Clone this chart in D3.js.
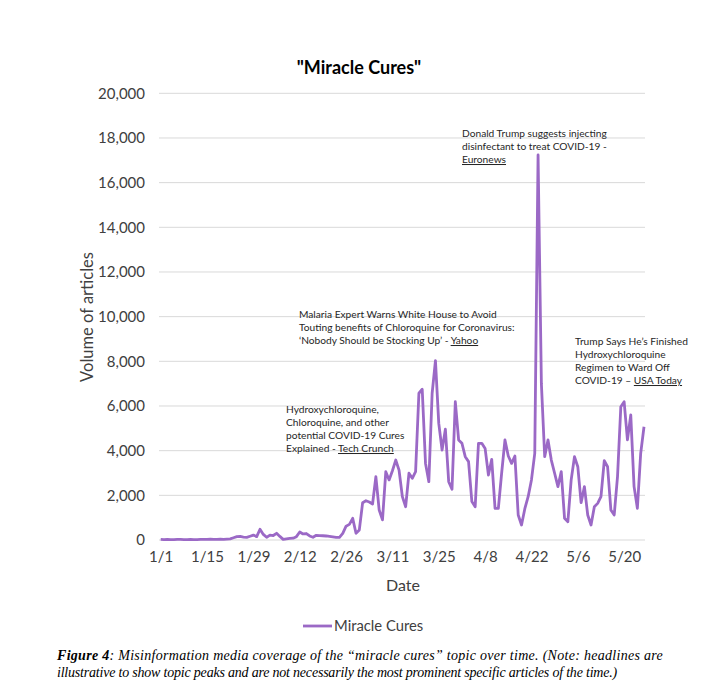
<!DOCTYPE html>
<html>
<head>
<meta charset="utf-8">
<script src="https://cdn.jsdelivr.net/npm/d3@7"></script>
<style>
  html, body { margin: 0; padding: 0; background: #ffffff; }
  svg { display: block; }
</style>
</head>
<body>
<svg id="chart" width="722" height="681"></svg>
<script>
// ---------------- data ----------------
const chartTitle = '"Miracle Cures"';
const seriesName = "Miracle Cures";
const startDate = "2020-01-01";
// daily article volume, 1/1 .. 5/26
const values = [
  30, 20, 30, 20, 20, 30, 30, 20, 20, 30,
  20, 20, 30, 30, 30, 40, 30, 30, 40, 30,
  40, 50, 100, 150, 160, 130, 120, 170, 220, 150,
  480, 250, 120, 220, 200, 300, 160, 30, 50, 70,
  80, 150, 360, 270, 290, 180, 120, 210, 200, 190,
  180, 160, 140, 120, 120, 300, 620, 700, 970, 300,
  450, 1670, 1760, 1700, 1610, 2840, 1340, 900, 3060, 2690,
  3100, 3580, 3130, 1940, 1490, 2990, 2760, 3060, 6570, 6750,
  3430, 2610, 6570, 8030, 5220, 4030, 4960, 2610, 2270, 6190,
  4480, 4330, 3730, 3510, 1720, 1490, 4330, 4330, 4100, 2910,
  3610, 1420, 1420, 3000, 4480, 3760, 3430, 3760, 1120, 670,
  1400, 1940, 2690, 3880, 17240, 7000, 3730, 4480, 3580, 2990,
  2390, 3060, 970, 820, 2690, 3730, 3280, 1670, 2390, 1120,
  670, 1490, 1640, 1940, 3550, 3280, 1340, 1120, 2840, 5970,
  6190, 4480, 5600, 2390, 1420, 3880, 5070
];
const xTickLabels = ["1/1", "1/15", "1/29", "2/12", "2/26", "3/11", "3/25", "4/8", "4/22", "5/6", "5/20"];
const yTicks = [0, 2000, 4000, 6000, 8000, 10000, 12000, 14000, 16000, 18000, 20000];
const xTitle = "Date";
const yTitle = "Volume of articles";
// each line: [plain text, underlined source]
const annotations = [
  [["Donald Trump suggests injecting", ""], ["disinfectant to treat COVID-19 -", ""], ["", "Euronews"]],
  [["Malaria Expert Warns White House to Avoid", ""], ["Touting benefits of Chloroquine for Coronavirus:", ""], ["\u2018Nobody Should be Stocking Up\u2019 - ", "Yahoo"]],
  [["Hydroxychloroquine,", ""], ["Chloroquine, and other", ""], ["potential COVID-19 Cures", ""], ["Explained - ", "Tech Crunch"]],
  [["Trump Says He\u2019s Finished", ""], ["Hydroxychloroquine", ""], ["Regimen to Ward Off", ""], ["COVID-19 \u2013 ", "USA Today"]]
];
const annotationPos = [[462, 137], [299, 318], [286, 413], [575, 345]];
const captionBold = "Figure 4";
const captionLine1 = ": Misinformation media coverage of the \u201cmiracle cures\u201d topic over time. (Note: headlines are";
const captionLine2 = "illustrative to show topic peaks and are not necessarily the most prominent specific articles of the time.)";

// ---------------- layout ----------------
const svg = d3.select("#chart");
const font = "Lato, 'Open Sans', sans-serif";
const lineColor = "#9b69c6";
const textColor = "#404040";
const plot = { left: 159, right: 645, top: 93.3, bottom: 540 };

const t0 = new Date(startDate + "T00:00:00Z");
const data = values.map((v, i) => ({ date: d3.utcDay.offset(t0, i), value: v }));

const x = d3.scaleUtc()
  .domain([data[0].date, data[data.length - 1].date])
  .range([160.7, 644]);
const y = d3.scaleLinear().domain([0, 20000]).range([plot.bottom, plot.top]);

// gridlines
svg.append("g")
  .selectAll("line")
  .data(yTicks)
  .join("line")
  .attr("x1", plot.left).attr("x2", plot.right)
  .attr("y1", d => y(d)).attr("y2", d => y(d))
  .attr("stroke", "#d9d9d9").attr("stroke-width", 1);

// y axis labels
const yAxis = d3.axisLeft(y).tickValues(yTicks).tickSize(0).tickPadding(0)
  .tickFormat(d3.format(","));
const gy = svg.append("g").attr("transform", `translate(145,0)`).call(yAxis);
gy.select(".domain").remove();
gy.selectAll("text").attr("font-family", font).attr("font-size", 15).attr("fill", textColor);

// x axis labels
const xTickDates = xTickLabels.map((s, i) => d3.utcDay.offset(t0, i * 14));
const xAxis = d3.axisBottom(x).tickValues(xTickDates).tickSize(0).tickPadding(0)
  .tickFormat((d, i) => xTickLabels[i]);
const gx = svg.append("g").attr("transform", `translate(0,551)`).call(xAxis);
gx.select(".domain").remove();
gx.selectAll("text").attr("font-family", font).attr("font-size", 15).attr("fill", textColor);

// line
const line = d3.line().x(d => x(d.date)).y(d => y(d.value));
svg.append("path")
  .datum(data)
  .attr("d", line)
  .attr("fill", "none")
  .attr("stroke", lineColor)
  .attr("stroke-width", 2.8)
  .attr("stroke-linejoin", "round");

// title
svg.append("text")
  .attr("x", 359).attr("y", 74)
  .attr("text-anchor", "middle")
  .attr("font-family", font).attr("font-size", 18).attr("font-weight", "bold")
  .attr("fill", "#000")
  .text(chartTitle);

// axis titles
svg.append("text")
  .attr("x", 403).attr("y", 591)
  .attr("text-anchor", "middle")
  .attr("font-family", font).attr("font-size", 16).attr("fill", textColor)
  .text(xTitle);
svg.append("text")
  .attr("transform", "translate(93,317) rotate(-90)")
  .attr("text-anchor", "middle")
  .attr("font-family", font).attr("font-size", 16.5).attr("fill", textColor)
  .text(yTitle);

// annotations
annotations.forEach((a, k) => {
  const [ax, ay] = annotationPos[k];
  a.forEach(([plain, link], j) => {
    const t = svg.append("text")
      .attr("x", ax).attr("y", ay + j * 13)
      .attr("font-family", font).attr("font-size", 10.2)
      .attr("fill", "#262626");
    if (plain) t.append("tspan").text(plain);
    if (link) t.append("tspan").attr("text-decoration", "underline").text(link);
  });
});

// legend
const lg = svg.append("g");
lg.append("line")
  .attr("x1", 303).attr("x2", 332).attr("y1", 626).attr("y2", 626)
  .attr("stroke", lineColor).attr("stroke-width", 2.8);
lg.append("text")
  .attr("x", 334).attr("y", 631)
  .attr("font-family", font).attr("font-size", 14.8).attr("fill", textColor)
  .text(seriesName);

// caption
const capFont = "'Liberation Serif', 'DejaVu Serif', serif";
const cap1 = svg.append("text")
  .attr("x", 57).attr("y", 660)
  .attr("font-family", capFont).attr("font-size", 14).attr("font-style", "italic").attr("fill", "#000");
cap1.append("tspan").attr("font-weight", "bold").text(captionBold);
cap1.append("tspan").text(captionLine1);
const cap2 = svg.append("text")
  .attr("x", 57).attr("y", 677)
  .attr("font-family", capFont).attr("font-size", 14).attr("font-style", "italic").attr("fill", "#000")
  .text(captionLine2);
// fit caption lines to their widths in the figure via letter spacing
function fit(sel, target, nChars) {
  const w = sel.node().getComputedTextLength();
  sel.attr("letter-spacing", (target - w) / nChars);
}
fit(cap1, 606, (captionBold + captionLine1).length);
fit(cap2, 560, captionLine2.length);
</script>
</body>
</html>
